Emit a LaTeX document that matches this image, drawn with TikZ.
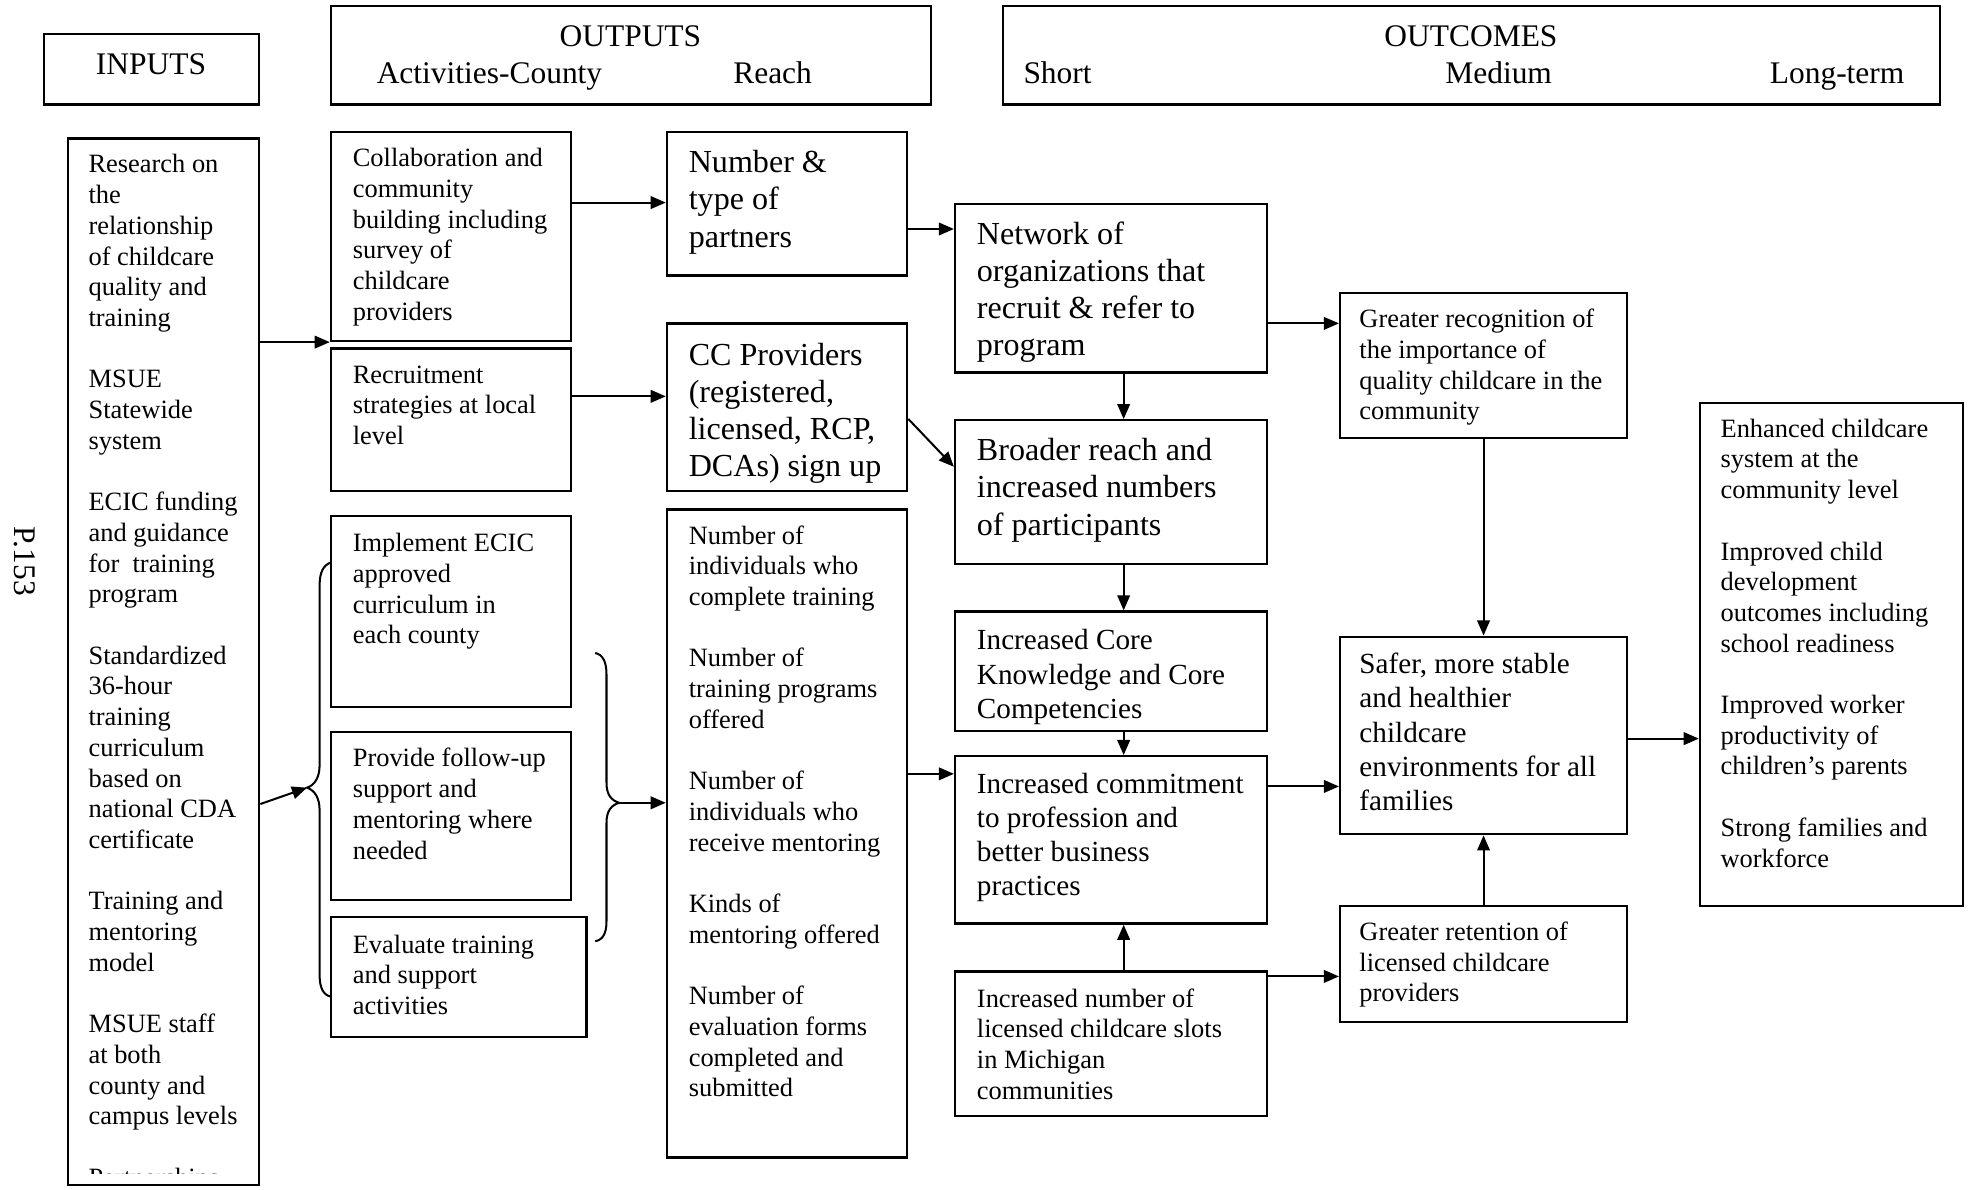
\documentclass[tikz,border=0pt]{standalone}
\usepackage{fontspec}
\setmainfont{Liberation Serif}
\usetikzlibrary{arrows.meta,fit}
\begin{document}
\begin{tikzpicture}[x=0.5pt,y=-0.5pt,
 box/.style={draw, line width=0.9pt, inner sep=0pt},
 txt/.style={anchor=north west, inner sep=0pt, align=left},
 sm/.style={font=\fontsize{10.5}{12.2}\selectfont},
 lg/.style={font=\fontsize{12.75}{14.8}\selectfont},
 md/.style={font=\fontsize{11.6}{13.6}\selectfont},
 hd/.style={font=\fontsize{12.5}{14.5}\selectfont, inner sep=0pt, anchor=base},
 arr/.style={line width=0.8pt, -{Triangle[length=6pt,width=5pt]}},
 brc/.style={line width=0.8pt}]
\useasboundingbox (0,0) rectangle (1568,945);
% header boxes
\node[box, fit={(35,27)(206,83)}] (hin) {};
\node[box, fit={(263,5)(740,83)}] (hout) {};
\node[box, fit={(797,5)(1542,83)}] (hoc) {};
\node[hd] (tin) at (120,59) {INPUTS};
\node[hd] (tout) at (501,37) {OUTPUTS};
\node[hd] (tact) at (389,66) {Activities-County};
\node[hd] (treach) at (614,66) {Reach};
\node[hd] (toc) at (1169,37) {OUTCOMES};
\node[hd, anchor=base west] (tshort) at (813,66) {Short};
\node[hd] (tmed) at (1191,66) {Medium};
\node[hd] (tlong) at (1460,66) {Long-term};
\node[rotate=-90, font=\fontsize{12.5}{14}\selectfont, inner sep=0pt] (pg) at (20,446) {P.153};
% boxes
\node[box, fit={(54,110)(206,942)}] (inp) {};
\node[box, fit={(263,105)(454,271)}] (collab) {};
\node[box, fit={(263,277)(454,390)}] (recr) {};
\node[box, fit={(263,410)(454,562)}] (impl) {};
\node[box, fit={(263,582)(454,715)}] (prov) {};
\node[box, fit={(263,729)(466,824)}] (eval) {};
\node[box, fit={(530,105)(721,219)}] (partn) {};
\node[box, fit={(530,257)(721,390)}] (ccp) {};
\node[box, fit={(530,405)(721,920)}] (nlist) {};
\node[box, fit={(759,162)(1007,296)}] (netw) {};
\node[box, fit={(759,334)(1007,448)}] (broad) {};
\node[box, fit={(759,486)(1007,581)}] (core) {};
\node[box, fit={(759,601)(1007,734)}] (commit) {};
\node[box, fit={(759,772)(1007,887)}] (slots) {};
\node[box, fit={(1065,233)(1293,348)}] (recog) {};
\node[box, fit={(1065,506)(1293,663)}] (safer) {};
\node[box, fit={(1065,720)(1293,812)}] (retain) {};
\node[box, fit={(1351,320)(1560,720)}] (longt) {};
% texts
\begin{scope}
\clip (54,110) rectangle (206,933);
\node[txt,sm] (inpt) at (70,120) {\strut Research on\\the\\relationship\\of childcare\\quality and\\training\\[12.2pt]MSUE\\Statewide\\system\\[12.2pt]ECIC funding\\and guidance\\for~ training\\program\\[12.2pt]Standardized\\36-hour\\training\\curriculum\\based on\\national CDA\\certificate\\[12.2pt]Training and\\mentoring\\model\\[12.2pt]MSUE staff\\at both\\county and\\campus levels\\[12.2pt]Partnerships};
\end{scope}
\node[txt,sm] (collabt) at (280,115) {\strut Collaboration and\\community\\building including\\survey of\\childcare\\providers};
\node[txt,sm] (recrt) at (280,287) {\strut Recruitment\\strategies at local\\level};
\node[txt,sm] (implt) at (280,421) {\strut Implement ECIC\\approved\\curriculum in\\each county};
\node[txt,sm] (provt) at (280,592) {\strut Provide follow-up\\support and\\mentoring where\\needed};
\node[txt,sm] (evalt) at (280,740) {\strut Evaluate training\\and support\\activities};
\node[txt,lg] (partnt) at (547,116) {\strut Number \&\\type of\\partners};
\node[txt,lg] (ccpt) at (547,269) {\strut CC Providers\\(registered,\\licensed, RCP,\\DCAs) sign up};
\node[txt,sm] (nlistt) at (547,415) {\strut Number of\\individuals who\\complete training\\[12.2pt]Number of\\training programs\\offered\\[12.2pt]Number of\\individuals who\\receive mentoring\\[12.2pt]Kinds of\\mentoring offered\\[12.2pt]Number of\\evaluation forms\\completed and\\submitted};
\node[txt,lg] (netwt) at (776,173) {\strut Network of\\organizations that\\recruit \& refer to\\program};
\node[txt,lg] (broadt) at (776,345) {\strut Broader reach and\\increased numbers\\of participants};
\node[txt,md] (coret) at (776,497) {\strut Increased Core\\Knowledge and Core\\Competencies};
\node[txt,md] (committ) at (776,611) {\strut Increased commitment\\to profession and\\better business\\practices};
\node[txt,sm] (slotst) at (776,783) {\strut Increased number of\\licensed childcare slots\\in Michigan\\communities};
\node[txt,sm] (recogt) at (1080,243) {\strut Greater recognition of\\the importance of\\quality childcare in the\\community};
\node[txt,md] (safert) at (1080,516) {\strut Safer, more stable\\and healthier\\childcare\\environments for all\\families};
\node[txt,sm] (retaint) at (1080,730) {\strut Greater retention of\\licensed childcare\\providers};
\node[txt,sm] (longtt) at (1367,330) {\strut Enhanced childcare\\system at the\\community level\\[12.2pt]Improved child\\development\\outcomes including\\school readiness\\[12.2pt]Improved worker\\productivity of\\children’s parents\\[12.2pt]Strong families and\\workforce};
% helper coordinates
\coordinate (xA) at (893,0);
\coordinate (y161) at (0,161);
\coordinate (y315) at (0,315);
\coordinate (y182) at (0,182);
\coordinate (y333) at (0,333);
\coordinate (y371) at (0,371);
\coordinate (y615) at (0,615);
\coordinate (y257) at (0,257);
\coordinate (y625) at (0,625);
\coordinate (y776) at (0,776);
\coordinate (y587) at (0,587);
\coordinate (y639) at (0,639);
\coordinate (lbt) at (244,626);
\coordinate (rbt) at (492,638);
% braces
\draw[brc] (263,447) .. controls (257,449) and (254,455) .. (254,465) -- (254,608) .. controls (254,618) and (250,624) .. (lbt) .. controls (250,628) and (254,634) .. (254,644) -- (254,775) .. controls (254,785) and (257,791) .. (263,792);
\draw[brc] (473,519) .. controls (479,520) and (482,526) .. (482,536) -- (482,622) .. controls (482,632) and (486,636) .. (rbt) .. controls (486,640) and (482,644) .. (482,654) -- (482,732) .. controls (482,742) and (479,747) .. (473,748);
% arrows
\draw[arr] (inp.east |- collab.south) -- (collab.south west);
\draw[arr] (inp.east |- y639) -- (lbt);
\draw[arr] (rbt) -- (nlist.west |- rbt);
\draw[arr] (collab.east |- y161) -- (partn.west |- y161);
\draw[arr] (recr.east |- y315) -- (ccp.west |- y315);
\draw[arr] (partn.east |- y182) -- (netw.west |- y182);
\draw[arr] (ccp.east |- y333) -- (broad.west |- y371);
\draw[arr] (nlist.east |- y615) -- (commit.west |- y615);
\draw[arr] (netw.south -| xA) -- (broad.north -| xA);
\draw[arr] (broad.south -| xA) -- (core.north -| xA);
\draw[arr] (core.south -| xA) -- (commit.north -| xA);
\draw[arr] (slots.north -| xA) -- (commit.south -| xA);
\draw[arr] (netw.east |- y257) -- (recog.west |- y257);
\draw[arr] (commit.east |- y625) -- (safer.west |- y625);
\draw[arr] (slots.east |- y776) -- (retain.west |- y776);
\draw[arr] (recog.south) -- (safer.north);
\draw[arr] (retain.north) -- (safer.south);
\draw[arr] (safer.east |- y587) -- (longt.west |- y587);
\end{tikzpicture}
\end{document}
